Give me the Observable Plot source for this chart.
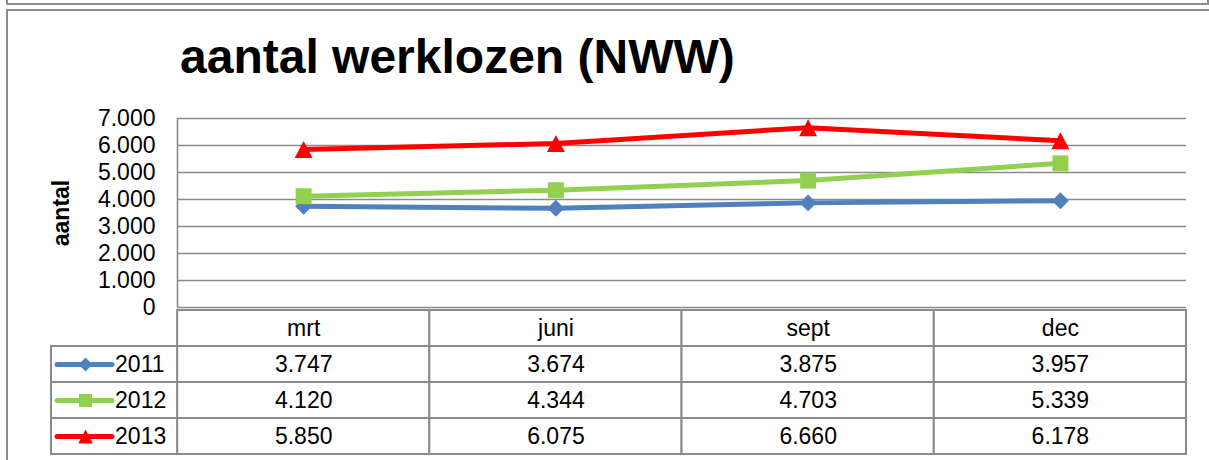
<!DOCTYPE html>
<html>
<head>
<meta charset="utf-8">
<script src="https://cdn.jsdelivr.net/npm/d3@7"></script>
<script src="https://cdn.jsdelivr.net/npm/@observablehq/plot@0.6"></script>
<style>
  body { margin: 0; background: #fff; }
  #wrap { position: relative; width: 1209px; height: 460px; overflow: hidden; background: #fff;
          font-family: "Liberation Sans", Arial, sans-serif; }
  .box-top { position: absolute; left: 6px; top: -10px; width: 1199px; height: 11px; border: 2px solid #8c8c8c; }
  .box { position: absolute; left: 6px; top: 9px; width: 1300px; height: 600px; border: 2px solid #8c8c8c; }
  #title { position: absolute; left: 180px; top: 33px; font: bold 48px/48px "Liberation Sans", Arial, sans-serif;
           color: #000; white-space: nowrap; z-index: 2; }
  #chart, #table { position: absolute; left: 0; }
  #chart { top: 0; z-index: 1; }
  #table { top: 309px; }
  g[aria-label="y-axis label"] { font-weight: bold; font-size: 23px; }
</style>
</head>
<body>
<div id="wrap">
  <div class="box-top"></div>
  <div class="box"></div>
  <div id="title"></div>
  <div id="chart"></div>
  <div id="table"></div>
</div>
<script>
// ---- data ----
const titleText = "aantal werklozen (NWW)";
const yLabel = "aantal";
const months = ["mrt", "juni", "sept", "dec"];
const series = ["2011", "2012", "2013"];
const values2011 = [3747, 3674, 3875, 3957];
const values2012 = [4120, 4344, 4703, 5339];
const values2013 = [5850, 6075, 6660, 6178];
const yTicks = [0, 1000, 2000, 3000, 4000, 5000, 6000, 7000];

// ---- styles ----
const COLORS = ["#4F81BD", "#92D050", "#FF0000"];
const GRID = "#8a8a8a";
const FONT = "'Liberation Sans', Arial, sans-serif";
const FS = 23;

const seriesValues = [values2011, values2012, values2013];
const rows = series.flatMap((s, si) =>
  months.map((m, mi) => ({series: s, month: m, col: mi, value: seriesValues[si][mi]})));
const headerCells = months.map((m, i) => ({month: m, col: i}));

const nl = d3.formatLocale({decimal: ",", thousands: ".", grouping: [3], currency: ["€ ", ""]});
const fmt = nl.format(",d");

// Excel-like marker symbols
const diamond = {draw(ctx, size) { const h = Math.sqrt(size / Math.PI) * 1.06;
  ctx.moveTo(0, -h); ctx.lineTo(h, 0); ctx.lineTo(0, h); ctx.lineTo(-h, 0); ctx.closePath(); }};
const square = {draw(ctx, size) { const h = Math.sqrt(size / Math.PI);
  ctx.moveTo(-h, -h); ctx.lineTo(h, -h); ctx.lineTo(h, h); ctx.lineTo(-h, h); ctx.closePath(); }};
const triangle = {draw(ctx, size) { const h = Math.sqrt(size / Math.PI);
  ctx.moveTo(0, -h * 1.06); ctx.lineTo(h * 1.12, h * 1.06); ctx.lineTo(-h * 1.12, h * 1.06); ctx.closePath(); }};

const colorScale = {domain: series, range: COLORS};
const symbolScale = {domain: series, range: [diamond, square, triangle]};
const baseStyle = {fontFamily: FONT, fontSize: FS + "px", color: "#000", background: "transparent", overflow: "visible"};

document.getElementById("title").textContent = titleText;

// ---- chart ----
const chart = Plot.plot({
  width: 1209, height: 309,
  marginTop: 118, marginBottom: 2, marginLeft: 177, marginRight: 23,
  style: baseStyle,
  x: {domain: [0, months.length], axis: null},
  y: {domain: [0, 7000], axis: null},
  color: colorScale,
  symbol: symbolScale,
  marks: [
    Plot.gridY(yTicks, {stroke: GRID, strokeOpacity: 1, strokeWidth: 1.6}),
    Plot.ruleX([0], {y1: 0, y2: 7000, stroke: GRID, strokeWidth: 1.6}),
    Plot.axisY({ticks: yTicks, tickFormat: fmt, tickSize: 0, tickPadding: 22, fontSize: FS,
                label: yLabel, labelAnchor: "center", labelOffset: 125, labelArrow: false}),
    ...series.flatMap(s => {
      const d = rows.filter(r => r.series === s);
      return [
        Plot.line(d, {x: r => r.col + 0.5, y: "value", stroke: "series", strokeWidth: 5,
                      strokeLinejoin: "round", strokeLinecap: "round"}),
        Plot.dot(d, {x: r => r.col + 0.5, y: "value", fill: "series", symbol: "series", r: 8})
      ];
    })
  ]
});
document.getElementById("chart").append(chart);

// ---- data table ----
const LEG_X1 = -0.476, LEG_X2 = -0.258, LEG_MARK = -0.365, LEG_TEXT = -0.248;
const table = Plot.plot({
  width: 1209, height: 151,
  marginTop: 0, marginBottom: 6, marginLeft: 51, marginRight: 23,
  style: baseStyle,
  x: {domain: [-0.5, months.length], axis: null},
  y: {type: "band", domain: ["hdr", ...series], padding: 0, axis: null},
  color: colorScale,
  symbol: symbolScale,
  marks: [
    Plot.barX(headerCells, {x1: d => d.col, x2: d => d.col + 1, y: () => "hdr", fill: "white", stroke: GRID, strokeWidth: 2}),
    Plot.barX(rows, {x1: d => d.col, x2: d => d.col + 1, y: "series", fill: "white", stroke: GRID, strokeWidth: 2}),
    Plot.barX(series, {x1: -0.5, x2: 0, y: d => d, fill: "white", stroke: GRID, strokeWidth: 2}),
    Plot.text(headerCells, {x: d => d.col + 0.5, y: () => "hdr", text: "month", fontSize: FS, fill: "#000"}),
    Plot.text(rows, {x: d => d.col + 0.5, y: "series", text: d => fmt(d.value), fontSize: FS, fill: "#000"}),
    Plot.ruleY(series, {y: d => d, x1: LEG_X1, x2: LEG_X2, stroke: d => d, strokeWidth: 5, strokeLinecap: "round"}),
    Plot.dot(series, {x: LEG_MARK, y: d => d, fill: d => d, symbol: d => d, r: 6.5}),
    Plot.text(series, {x: LEG_TEXT, y: d => d, text: d => d, textAnchor: "start", fontSize: FS, fill: "#000"})
  ]
});
document.getElementById("table").append(table);
</script>
</body>
</html>
